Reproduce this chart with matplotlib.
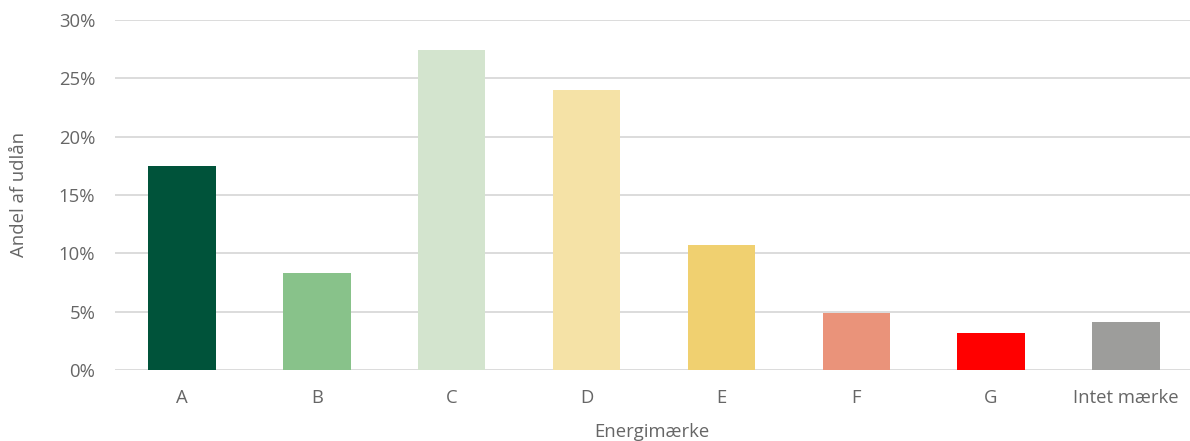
import matplotlib
matplotlib.use("Agg")
from matplotlib import pyplot as plt
from matplotlib.ticker import PercentFormatter

# === DATA ===
categories = ["A", "B", "C", "D", "E", "F", "G", "Intet mærke"]
shares = [17.5, 8.3, 27.4, 24.0, 10.7, 4.9, 3.2, 4.1]
bar_colors = ["#00533A", "#88C28A", "#D3E4CE", "#F5E2A6",
              "#F0D070", "#EA937A", "#FF0000", "#9D9D9B"]
y_ticks = [0, 5, 10, 15, 20, 25, 30]

TEXT_COLOR = "#666666"
GRID_COLOR = "#D9D9D9"

plt.rcParams["font.family"] = ["Open Sans", "DejaVu Sans"]

fig = plt.figure(figsize=(11.9, 4.41), dpi=100)
ax = fig.add_axes([114.6 / 1190, 71 / 441, (1190 - 114.6) / 1190, 350 / 441])

x = list(range(len(categories)))
ax.bar(x, shares, width=0.5, color=bar_colors, zorder=3)

ax.set_xlim(-0.5, len(categories) - 0.5 - 3.4 / 134.86)
ax.set_ylim(0, 30)
ax.set_yticks(y_ticks)
ax.yaxis.set_major_formatter(PercentFormatter(decimals=0))
ax.set_xticks(x)
ax.set_xticklabels(categories)

ax.grid(axis="y", color=GRID_COLOR, linewidth=1.3, zorder=0)
for side in ["top", "right", "left", "bottom"]:
    ax.spines[side].set_visible(False)
ax.tick_params(axis="both", length=0, labelsize=13.3, colors=TEXT_COLOR)
ax.tick_params(axis="y", pad=14)
ax.tick_params(axis="x", pad=14)

ax.set_xlabel("Energimærke", fontsize=13.3, color=TEXT_COLOR, labelpad=11)
ax.set_ylabel("Andel af udlån", fontsize=13.3, color=TEXT_COLOR)
# put the y label near the left edge of the figure, like the original
ax.yaxis.set_label_coords(28 / 1190, 0.56, transform=fig.transFigure)

plt.savefig("out.png", dpi=100)
